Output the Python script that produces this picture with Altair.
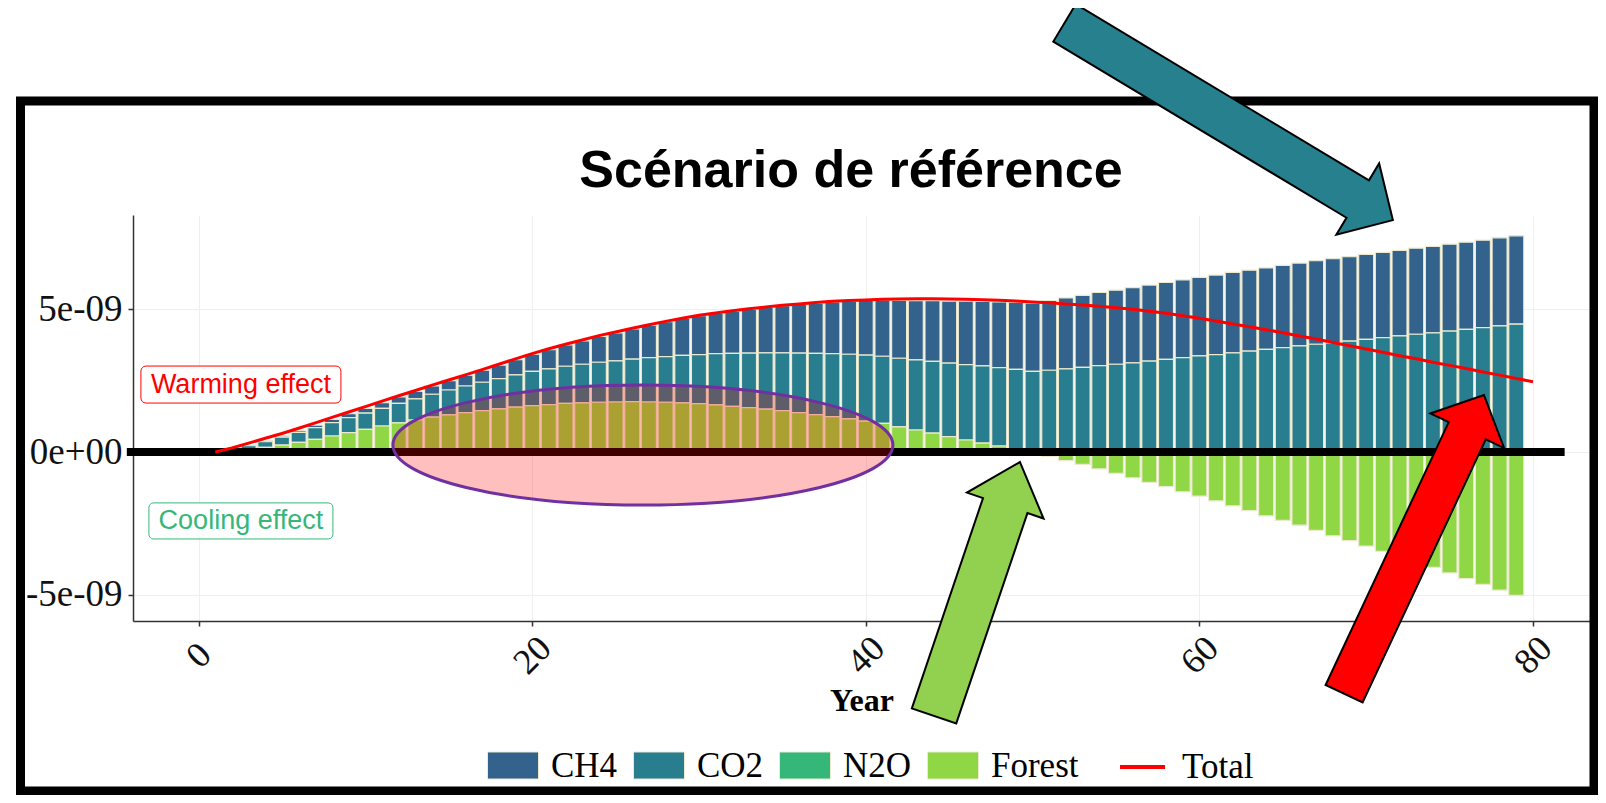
import altair as alt
import pandas as pd

# ---------------- data (values in units of 1e-9) ----------------
SCALE = 1e-9
YEARS = list(range(1, 80))
TOTAL_YEARS = list(range(1, 81))
GASES = ["CH4", "CO2", "N2O", "Forest"]
GAS_COLORS = ["#33638D", "#287D8E", "#35B779", "#8FD744"]

CH4 = [0.0, 0.01, 0.02, 0.03, 0.05, 0.07, 0.09, 0.11, 0.14, 0.17,
       0.2, 0.23, 0.26, 0.29, 0.33, 0.37, 0.42, 0.47, 0.53, 0.6,
       0.67, 0.75, 0.82, 0.9, 0.98, 1.06, 1.14, 1.22, 1.29, 1.36,
       1.42, 1.48, 1.54, 1.59, 1.65, 1.7, 1.76, 1.81, 1.86, 1.92,
       1.97, 2.02, 2.07, 2.12, 2.17, 2.22, 2.26, 2.3, 2.35, 2.39,
       2.44, 2.48, 2.52, 2.56, 2.59, 2.63, 2.66, 2.69, 2.72, 2.75,
       2.78, 2.81, 2.83, 2.85, 2.88, 2.9, 2.92, 2.94, 2.95, 2.97,
       2.98, 2.99, 3.01, 3.02, 3.04, 3.05, 3.06, 3.08, 3.09]

CO2 = [0.01, 0.05, 0.12, 0.2, 0.28, 0.35, 0.41, 0.47, 0.52, 0.57,
       0.62, 0.68, 0.74, 0.8, 0.87, 0.93, 0.99, 1.06, 1.13, 1.2,
       1.25, 1.3, 1.35, 1.4, 1.44, 1.49, 1.55, 1.6, 1.66, 1.72,
       1.79, 1.85, 1.91, 1.97, 2.02, 2.08, 2.14, 2.2, 2.26, 2.31,
       2.35, 2.4, 2.45, 2.51, 2.57, 2.64, 2.7, 2.74, 2.78, 2.82,
       2.86, 2.91, 2.96, 3.02, 3.07, 3.12, 3.18, 3.24, 3.3, 3.36,
       3.41, 3.47, 3.53, 3.59, 3.65, 3.71, 3.77, 3.82, 3.88, 3.94,
       4.0, 4.06, 4.12, 4.17, 4.23, 4.29, 4.35, 4.41, 4.47]

FOREST = [0.01, 0.05, 0.1, 0.16, 0.24, 0.34, 0.44, 0.56, 0.68, 0.79,
          0.91, 1.02, 1.12, 1.22, 1.3, 1.38, 1.45, 1.51, 1.57, 1.62,
          1.66, 1.7, 1.72, 1.74, 1.75, 1.76, 1.75, 1.74, 1.72, 1.69,
          1.65, 1.6, 1.55, 1.5, 1.45, 1.38, 1.31, 1.24, 1.16, 1.08,
          1.0, 0.88, 0.77, 0.66, 0.54, 0.42, 0.31, 0.21, 0.11, -0.02,
          -0.15, -0.3, -0.43, -0.59, -0.75, -0.9, -1.06, -1.21, -1.39, -1.54,
          -1.71, -1.88, -2.05, -2.23, -2.39, -2.56, -2.74, -2.93, -3.1, -3.29,
          -3.47, -3.66, -3.85, -4.03, -4.23, -4.43, -4.63, -4.83, -5.01]

TOTAL = [0.0, 0.14, 0.31, 0.48, 0.65, 0.83, 1.02, 1.21, 1.4, 1.59,
         1.78, 1.97, 2.15, 2.34, 2.52, 2.7, 2.88, 3.07, 3.26, 3.44,
         3.61, 3.77, 3.92, 4.07, 4.2, 4.33, 4.45, 4.57, 4.68, 4.78,
         4.86, 4.94, 5.01, 5.07, 5.13, 5.18, 5.23, 5.27, 5.3, 5.32,
         5.34, 5.35, 5.36, 5.36, 5.35, 5.34, 5.33, 5.31, 5.28, 5.25,
         5.22, 5.18, 5.14, 5.1, 5.05, 4.99, 4.92, 4.85, 4.77, 4.68,
         4.58, 4.48, 4.38, 4.28, 4.17, 4.06, 3.95, 3.83, 3.72, 3.6,
         3.49, 3.37, 3.26, 3.14, 3.03, 2.92, 2.8, 2.69, 2.57, 2.46]

X_TICKS = [0, 20, 40, 60, 80]
Y_TICKS = [-5e-9, 0, 5e-9]
ZERO_LINE_X = [-4.3, 81.9]

TITLE = "Scénario de référence"
ANN_TEXT = ["Warming effect", "Cooling effect"]
ANN_X = [2.54, 2.54]
ANN_Y = [2.36e-9, -2.41e-9]
ANN_COLOR = ["#FF0000", "#35B779"]

# highlight annotations (anchor points in data coordinates)
ELLIPSE_AT = (26.64, 0.245e-9)
ARROW_TEAL_AT = (61.76, 11.56e-9)
ARROW_GREEN_AT = (46.67, -4.79e-9)
ARROW_RED_AT = (72.87, -3.23e-9)

# ---------------- tables ----------------
rows = []
stack_order = {"Forest": 0, "N2O": 1, "CO2": 2, "CH4": 3}
for gas, arr in [("CH4", CH4), ("CO2", CO2), ("Forest", FOREST)]:
    for yr, v in zip(YEARS, arr):
        rows.append({"year": yr, "gas": gas, "value": v * SCALE, "ord": stack_order[gas]})
bar_df = pd.DataFrame(rows)
total_df = pd.DataFrame({"year": TOTAL_YEARS, "value": [v * SCALE for v in TOTAL], "series": "Total"})
zero_df = pd.DataFrame({"x": [ZERO_LINE_X[0]], "x2": [ZERO_LINE_X[1]], "y": [0.0]})
ann_df = pd.DataFrame({"label": ANN_TEXT, "x": ANN_X, "y": ANN_Y, "color": ANN_COLOR})

# ---------------- scales / axes ----------------
xscale = alt.Scale(domain=[-3.93, 83.42], nice=False, zero=False)
yscale = alt.Scale(domain=[-5.91e-9, 8.29e-9], nice=False, zero=False)

xaxis = alt.Axis(values=X_TICKS, title="Year", labelAngle=-45, labelAlign="center",
                 labelBaseline="middle", labelPadding=29, tickSize=5,
                 labelFont="Liberation Serif", labelFontSize=36, labelColor="#111111",
                 titleFont="Liberation Serif", titleFontSize=32, titleFontWeight="bold",
                 titleColor="#000000", titleBaseline="middle", titleY=79,
                 domainColor="#333333", domainWidth=1.5, tickColor="#333333", tickWidth=1.5,
                 gridColor="#EFEFEF", gridWidth=1)
yaxis = alt.Axis(values=Y_TICKS, title=None, tickSize=5, labelPadding=6,
                 labelExpr="replace(replace(replace(format(datum.value, '.0e'), '\u2212', '-'), 'e-', 'e-0'), 'e+', 'e+0')",
                 labelFont="Liberation Serif", labelFontSize=37, labelColor="#111111",
                 domainColor="#333333", domainWidth=1.5, tickColor="#333333", tickWidth=1.5,
                 gridColor="#EFEFEF", gridWidth=1)

RECT_PATH = "M-1,-0.53H1V0.53H-1Z"

bars = alt.Chart(bar_df).transform_stack(
    stack="value", groupby=["year"], as_=["v0", "v1"],
    sort=[alt.SortField("ord", order="ascending")], offset="zero"
).transform_calculate(
    x0="datum.year - 0.45", x1="datum.year + 0.45"
).mark_bar(stroke="#ECE9CF", strokeWidth=1.2).encode(
    x=alt.X("x0:Q", scale=xscale, axis=xaxis),
    x2="x1:Q",
    y=alt.Y("v0:Q", scale=yscale, axis=yaxis),
    y2="v1:Q",
    color=alt.Color("gas:N", scale=alt.Scale(domain=GASES, range=GAS_COLORS),
                    legend=alt.Legend(title=None, orient="none", legendX=354, legendY=524.5,
                                      direction="horizontal", symbolType=RECT_PATH,
                                      symbolSize=2601, symbolStrokeColor="#ECE9CF",
                                      symbolStrokeWidth=1, symbolOpacity=1,
                                      labelFont="Liberation Serif", labelFontSize=35,
                                      labelColor="#000000", labelOffset=12,
                                      columnPadding=13, padding=0)),
)

zero_rule = alt.Chart(zero_df).mark_rule(color="#000000", strokeWidth=8).encode(
    x=alt.X("x:Q", scale=xscale, axis=xaxis),
    x2="x2:Q",
    y=alt.Y("y:Q", scale=yscale, axis=yaxis),
)

total_line = alt.Chart(total_df).mark_line(strokeWidth=3).encode(
    x=alt.X("year:Q", scale=xscale, axis=xaxis),
    y=alt.Y("value:Q", scale=yscale, axis=yaxis),
    stroke=alt.Stroke("series:N", scale=alt.Scale(domain=["Total"], range=["#FF0000"]),
                      legend=alt.Legend(title=None, orient="none", legendX=985, legendY=527.5,
                                        symbolType="stroke", symbolSize=2025,
                                        symbolStrokeWidth=4, labelFont="Liberation Serif",
                                        labelFontSize=35, labelColor="#000000",
                                        labelOffset=15, padding=0)),
)

BOX_W = "M-0.95,-0.185H0.95A0.05,0.05 0 0 1 1,-0.135V0.135A0.05,0.05 0 0 1 0.95,0.185H-0.95A0.05,0.05 0 0 1 -1,0.135V-0.135A0.05,0.05 0 0 1 -0.95,-0.185Z"
BOX_C = "M-0.95,-0.196H0.95A0.05,0.05 0 0 1 1,-0.146V0.146A0.05,0.05 0 0 1 0.95,0.196H-0.95A0.05,0.05 0 0 1 -1,0.146V-0.146A0.05,0.05 0 0 1 -0.95,-0.196Z"


def anchor_layer(df, **mark_kwargs):
    return alt.Chart(df).mark_point(**mark_kwargs).encode(
        x=alt.X("x:Q", scale=xscale, axis=xaxis),
        y=alt.Y("y:Q", scale=yscale, axis=yaxis),
    )


box_w = anchor_layer(ann_df.iloc[[0]], shape=BOX_W, size=40000, filled=True, fill="#FFFFFF",
                     stroke="#FF0000", strokeWidth=1, opacity=1)
box_c = anchor_layer(ann_df.iloc[[1]], shape=BOX_C, size=33856, filled=True, fill="#FFFFFF",
                     stroke="#35B779", strokeWidth=1, opacity=1)

ann_text = alt.Chart(ann_df).mark_text(
    font="Liberation Sans", fontSize=27, align="center", baseline="middle"
).encode(
    x=alt.X("x:Q", scale=xscale, axis=xaxis),
    y=alt.Y("y:Q", scale=yscale, axis=yaxis),
    text="label:N",
    color=alt.Color("color:N", scale=None),
)


def at(point):
    return pd.DataFrame({"x": [point[0]], "y": [point[1]]})


ELLIPSE_PATH = "M-1,0A1,0.24 0 1 0 1,0A1,0.24 0 1 0 -1,0Z"
ellipse = anchor_layer(at(ELLIPSE_AT), shape=ELLIPSE_PATH, size=250000, filled=True,
                       fill="#FF0000", fillOpacity=0.25, stroke="#7030A0",
                       strokeOpacity=1, strokeWidth=3)

ARROW_GREEN = "M0,-1L0.302,-0.657L0.175,-0.657L0.175,1L-0.175,1L-0.175,-0.657L-0.302,-0.657Z"
ARROW_RED = "M0,-1L0.247,-0.761L0.124,-0.761L0.124,1L-0.124,1L-0.124,-0.761L-0.247,-0.761Z"
ARROW_TEAL = "M0,-1L0.217,-0.786L0.114,-0.786L0.114,1L-0.114,1L-0.114,-0.786L-0.217,-0.786Z"

arrow_teal = anchor_layer(at(ARROW_TEAL_AT), shape=ARROW_TEAL, size=146689, angle=121,
                          filled=True, fill="#26808E", stroke="#000000", strokeWidth=2, opacity=1)
arrow_green = anchor_layer(at(ARROW_GREEN_AT), shape=ARROW_GREEN, size=71824, angle=18.7,
                           filled=True, fill="#92D050", stroke="#000000", strokeWidth=2, opacity=1)
arrow_red = anchor_layer(at(ARROW_RED_AT), shape=ARROW_RED, size=108702, angle=25.1,
                         filled=True, fill="#FF0000", stroke="#000000", strokeWidth=2, opacity=1)

frame = alt.Chart(pd.DataFrame({"a": [0]})).mark_rect(
    fillOpacity=0, stroke="#000000", strokeWidth=9
).encode(x=alt.value(-112.5), x2=alt.value(1461), y=alt.value(-114), y2=alt.value(576))

title = alt.Chart(pd.DataFrame({"t": [TITLE]})).mark_text(
    font="Liberation Sans", fontSize=52, fontWeight="bold", align="center",
    baseline="alphabetic", color="#000000"
).encode(text="t:N", x=alt.value(718), y=alt.value(-28))

chart = alt.layer(frame, bars, zero_rule, ellipse, total_line, box_w, box_c, ann_text, title,
                  arrow_teal, arrow_green, arrow_red).properties(
    width=1457, height=406,
    padding={"left": 125, "top": 207, "right": 8, "bottom": 174},
    autosize=alt.AutoSizeParams(type="none"),
    background="#FFFFFF",
).configure_view(stroke=None)

chart.save("out.html", embed_options={"renderer": "svg", "actions": False})
